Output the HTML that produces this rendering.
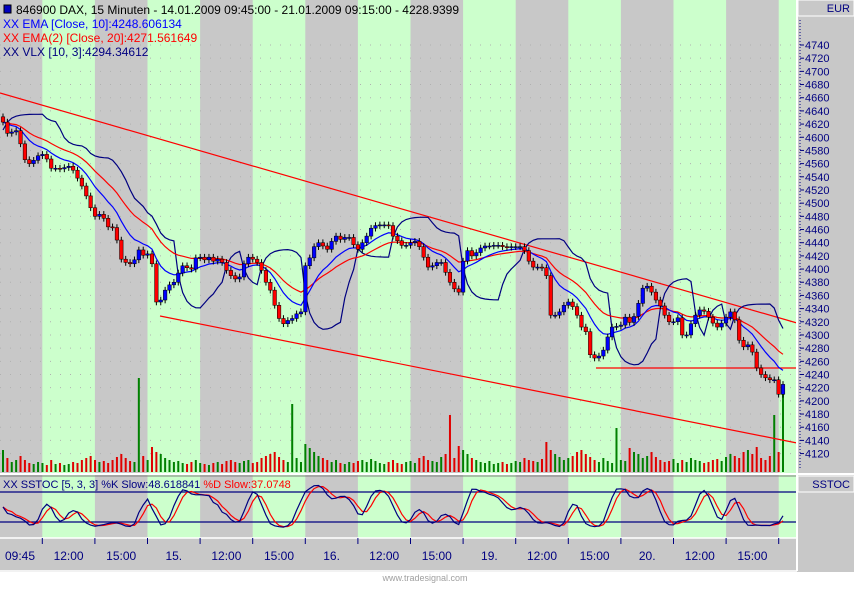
<!DOCTYPE html>
<html><head><meta charset="utf-8"><style>
html,body{margin:0;padding:0;background:#fff}
body{width:854px;height:584px;overflow:hidden;font-family:"Liberation Sans",sans-serif}
svg text{font-family:"Liberation Sans",sans-serif}
</style></head><body>
<svg id="chart" width="854" height="584" viewBox="0 0 854 584" xmlns="http://www.w3.org/2000/svg">
<rect x="0" y="0" width="854" height="572" fill="#c8c8c8"/>
<rect x="0" y="572" width="854" height="12" fill="#ffffff"/>
<g id="bands"></g>
<g id="grid"></g>
<g id="vol"></g>
<g id="chan"></g>
<g id="ind"></g>
<g id="candles"></g>
<g id="stoch"></g>
<g id="axes"></g>
<g>
<rect x="4" y="5" width="7" height="8" fill="#0000c0" stroke="#000" stroke-width="1"/>
<text x="16" y="14" font-size="12" fill="#000">846900  DAX, 15 Minuten - 14.01.2009 09:45:00 - 21.01.2009 09:15:00 - 4228.9399</text>
<text x="3" y="28" font-size="12" fill="#0000ff">XX EMA [Close, 10]:4248.606134</text>
<text x="3" y="42" font-size="12" fill="#ff0000">XX EMA(2) [Close, 20]:4271.561649</text>
<text x="3" y="56" font-size="12" fill="#000080">XX VLX [10, 3]:4294.34612</text>
</g>
</svg>
<script>
const closes=[4623,4606,4608,4610,4590,4566,4560,4565,4572,4574,4567,4553,4553,4552,4554,4556,4550,4538,4526,4511,4493,4480,4483,4477,4464,4463,4444,4415,4410,4408,4414,4429,4421,4423,4408,4350,4353,4368,4376,4380,4394,4405,4402,4400,4417,4418,4414,4418,4412,4415,4410,4398,4390,4385,4388,4408,4418,4415,4410,4398,4380,4368,4345,4325,4317,4322,4325,4332,4335,4405,4417,4434,4440,4435,4430,4442,4450,4445,4448,4448,4437,4430,4440,4450,4462,4466,4467,4467,4466,4450,4443,4436,4436,4440,4442,4434,4418,4403,4405,4410,4410,4395,4380,4370,4365,4412,4428,4420,4425,4432,4435,4435,4436,4436,4434,4433,4434,4434,4434,4428,4412,4403,4403,4402,4390,4330,4330,4335,4345,4350,4343,4330,4312,4305,4270,4265,4268,4277,4297,4312,4313,4315,4327,4319,4328,4348,4371,4374,4365,4353,4344,4330,4320,4320,4326,4300,4300,4317,4330,4338,4336,4327,4318,4312,4318,4327,4335,4323,4292,4282,4285,4274,4250,4240,4235,4232,4232,4210,4225];
const volumes=[22,14,10,12,16,12,9,8,10,9,7,12,8,9,7,8,10,9,12,14,16,12,10,11,9,12,15,18,14,11,10,94,16,12,25,20,18,14,12,10,11,9,8,10,12,9,8,7,9,10,8,11,12,10,9,11,12,9,10,14,16,18,20,15,12,10,68,14,10,28,24,20,16,14,12,10,12,9,8,10,9,11,12,10,13,11,9,8,10,12,9,8,10,11,9,14,16,12,11,10,15,18,57,14,26,22,18,14,12,10,9,11,8,9,10,8,9,11,10,14,12,11,10,13,30,22,18,15,12,14,16,20,22,18,15,12,10,14,11,9,44,12,11,24,20,18,14,16,20,15,12,10,11,13,9,12,10,14,12,11,9,10,12,13,11,15,18,16,14,20,22,18,25,14,12,16,57,20,84,16];
const priceTicks=[4740,4720,4700,4680,4660,4640,4620,4600,4580,4560,4540,4520,4500,4480,4460,4440,4420,4400,4380,4360,4340,4320,4300,4280,4260,4240,4220,4200,4180,4160,4140,4120];
const timeLabels=["09:45","12:00","15:00","15.","12:00","15:00","16.","12:00","15:00","19.","12:00","15:00","20.","12:00","15:00"];
const stochLevels=[80,20];

const NS="http://www.w3.org/2000/svg";
function mk(tag,attrs,parent){const e=document.createElementNS(NS,tag);for(const k in attrs)e.setAttribute(k,attrs[k]);parent.appendChild(e);return e;}
const PR=797, n=closes.length;
const xOf=i=>3+i*(780/(n-1));
const yP=p=>45+(4740-p)*0.659;
const VB=472;
const yS=v=>532-v*0.5;
const bandW=52.6, bandX0=42.3;

const bands=document.getElementById('bands');
for(let k=0;k<8;k++){const x=bandX0+k*2*bandW;const w=Math.min(bandW,PR-x);
 const r=mk('rect',{x:x,y:0,width:w,height:538,fill:'#ccffcc'},bands);
 
 }
const grid=document.getElementById('grid');
priceTicks.forEach(p=>{const l=mk('line',{x1:0,x2:PR,y1:yP(p),y2:yP(p),stroke:'#b0b0b0','stroke-width':1,'stroke-dasharray':'1 9'},grid);
 
 });

const vol=document.getElementById('vol');
volumes.forEach((v,i)=>{if(i>=n)return;const up=i===0||closes[i]>=closes[i-1];
 const r=mk('rect',{x:xOf(i)-1,y:VB-v,width:2,height:v,fill:up?'#008000':'#e00000'},vol);
 
 });

const chan=document.getElementById('chan');
[[0,93,PR,323],[160,316,PR,443],[596,368,PR,368]].forEach(c=>{
 const l=mk('line',{x1:c[0],y1:c[1],x2:c[2],y2:c[3],stroke:'#ff0000','stroke-width':1.2},chan);
 
 });

function ema(a,p){const k=2/(p+1);const o=[a[0]];for(let i=1;i<a.length;i++)o.push(a[i]*k+o[i-1]*(1-k));return o;}
const e10=ema(closes,10), e20=ema(closes,20);
const vlxRaw=closes.map((c,i)=>{const s=closes.slice(Math.max(0,i-9),i+1);
 return c<e10[i]?Math.max(...s)+12:Math.min(...s)-12;});
const vlx=ema(vlxRaw,3);
const ind=document.getElementById('ind');
function poly(arr,col,name,par,yf){const d=arr.map((v,i)=>(i?'L':'M')+xOf(i).toFixed(1)+' '+yf(v).toFixed(1)).join(' ');
 const p=mk('path',{d:d,fill:'none',stroke:col,'stroke-width':1.2},par);
 
 }
poly(vlx,'#000080','vlx-line',ind,yP);
poly(e20,'#ff0000','ema20-line',ind,yP);
poly(e10,'#0000ff','ema10-line',ind,yP);

const cg=document.getElementById('candles');
closes.forEach((c,i)=>{const o=i?closes[i-1]:c+8;const hi=Math.max(o,c)+5,lo=Math.min(o,c)-5;const x=xOf(i);
 const up=c>=o;
 const w=mk('line',{x1:x,x2:x,y1:yP(hi),y2:yP(lo),stroke:'#000','stroke-width':1},cg);
 
 
 const b=mk('rect',{x:x-1.8,y:yP(Math.max(o,c)),width:3.6,height:Math.max(1,Math.abs(yP(o)-yP(c))),fill:up?'#0000ff':'#ff0000',stroke:'#000','stroke-width':0.5},cg);
 
 });

const st=document.getElementById('stoch');
const ks=closes.map((c,i)=>{const s=closes.slice(Math.max(0,i-4),i+1);const h=Math.max(...s)+8,l=Math.min(...s)-8;return 100*(c-l)/(h-l);});
const sma=(a,p)=>a.map((v,i)=>{const s=a.slice(Math.max(0,i-p+1),i+1);return s.reduce((x,y)=>x+y,0)/s.length;});
const kS=sma(ks,3), dS=sma(kS,3);
stochLevels.forEach(lv=>{const l=mk('line',{x1:0,x2:PR,y1:yS(lv),y2:yS(lv),stroke:'#000080','stroke-width':1.3},st);
 
 });
poly(dS,'#ff0000','stoch-d-line',st,yS);
poly(kS,'#000080','stoch-k-line',st,yS);
const stt=mk('text',{x:3,y:488,'font-size':11,fill:'#000080'},st);


stt.innerHTML='XX SSTOC [5, 3, 3] %K Slow:48.618841 <tspan fill="#ff0000">%D Slow:37.0748</tspan>';

const ax=document.getElementById('axes');
function line(a,name){const l=mk('line',a,ax);return l;}
mk('rect',{x:PR,y:0,width:57,height:572,fill:'#c8c8c8'},ax);
line({x1:0,x2:854,y1:474,y2:474,stroke:'#ffffff','stroke-width':2},'panel-separator');
line({x1:0,x2:854,y1:476,y2:476,stroke:'#808080','stroke-width':1},'panel-separator-shadow');
line({x1:PR,x2:PR,y1:0,y2:571,stroke:'#ffffff','stroke-width':2},'right-axis-border');
line({x1:0,x2:PR,y1:538,y2:538,stroke:'#ffffff','stroke-width':1.5},'time-axis-border');
line({x1:0,x2:PR,y1:571,y2:571,stroke:'#ffffff','stroke-width':1.5},'time-axis-bottom');
line({x1:PR+3,x2:PR+3,y1:20,y2:470,stroke:'#000080','stroke-width':1,'stroke-dasharray':'1 2'},'price-axis-line');
mk('rect',{x:PR+1,y:0,width:56,height:16,fill:'#c8c8c8',stroke:'#ffffff','stroke-width':1},ax);
const eur=mk('text',{x:850,y:12,'font-size':11,fill:'#000080','text-anchor':'end'},ax);eur.textContent='EUR';


mk('rect',{x:PR+1,y:476,width:56,height:16,fill:'#c8c8c8',stroke:'#ffffff','stroke-width':1},ax);
const ss=mk('text',{x:850,y:488,'font-size':11,fill:'#000080','text-anchor':'end'},ax);ss.textContent='SSTOC';


priceTicks.forEach(p=>{const y=yP(p);
 line({x1:PR+3,x2:PR+7,y1:y,y2:y,stroke:'#000080','stroke-width':1},'price-tick');
 const t=mk('text',{x:PR+8,y:y+4,'font-size':11,fill:'#000080'},ax);t.textContent=p;
 
 });
for(let k=0;k<15;k++){const x=bandX0+k*bandW;
 line({x1:x,x2:x,y1:538,y2:544,stroke:'#000080','stroke-width':1},'time-tick');}
timeLabels.forEach((s,k)=>{const x=bandX0+(k-0.5)*bandW;
 const t=mk('text',{x:k===0?20:x,y:560,'font-size':12,fill:'#000080','text-anchor':'middle'},ax);t.textContent=s;
 
 });
const wm=mk('text',{x:425,y:581,'font-size':9,fill:'#a0a0a0','text-anchor':'middle'},ax);wm.textContent='www.tradesignal.com';


</script>
</body></html>
